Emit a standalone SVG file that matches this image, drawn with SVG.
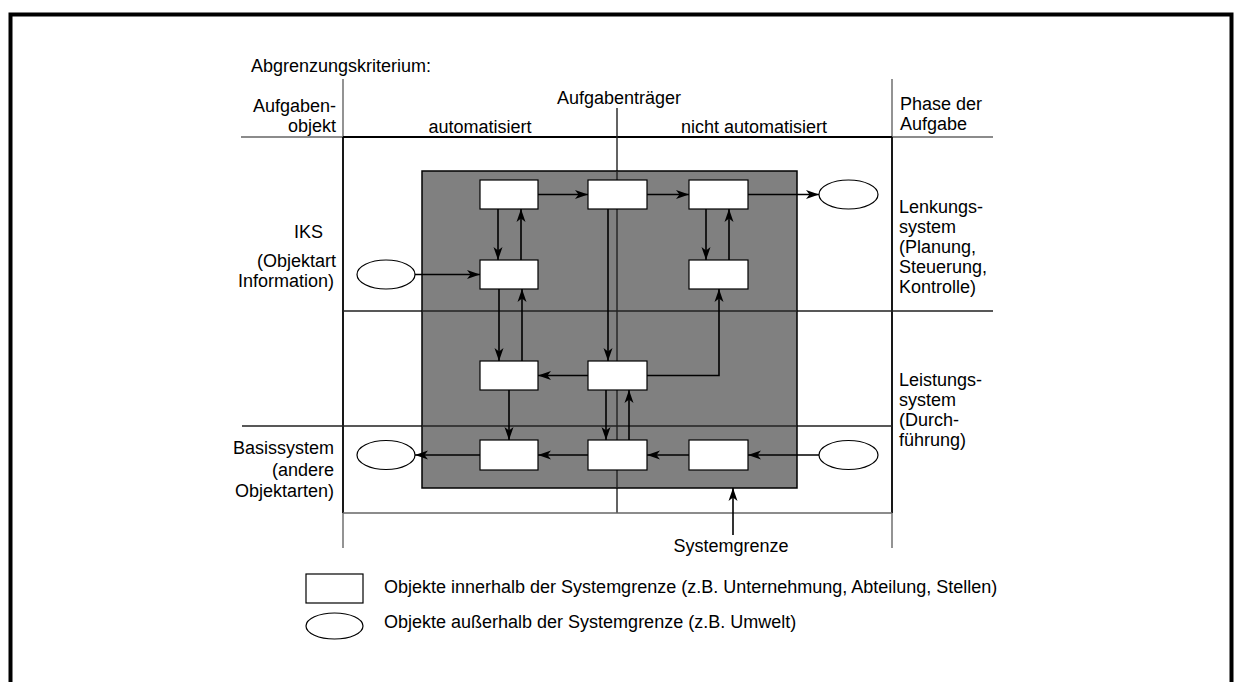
<svg xmlns="http://www.w3.org/2000/svg" width="1240" height="682" viewBox="0 0 1240 682">
<style>
text{font-family:"Liberation Sans",Arial,sans-serif;font-size:18px;fill:#000}
.box{fill:#fff;stroke:#000;stroke-width:1.2}
.ell{fill:#fff;stroke:#000;stroke-width:1.2}
.con{fill:none;stroke:#000;stroke-width:1.6}
.grid{fill:none;stroke:#000;stroke-width:1.8}
.thin{fill:none;stroke:#666;stroke-width:1.4}
.mid{fill:none;stroke:#222;stroke-width:1.4}
.end{text-anchor:end}
.mdl{text-anchor:middle}
</style>
<defs>
<marker id="ah" markerUnits="userSpaceOnUse" markerWidth="14" markerHeight="10" refX="13" refY="5" orient="auto">
<path d="M0,0.5 L13,5 L0,9.5 L3.5,5 z" fill="#000"/>
</marker>
</defs>
<rect x="10.5" y="14.5" width="1221" height="700" fill="none" stroke="#000" stroke-width="4"/>

<g id="grid">
<path class="thin" d="M343,79 V137 M343,513 V548 M892,79 V137 M892,513 V548 M241,137 H343 M892,137 H993"/>
<path class="grid" d="M343,137 H892 M343,137 V513 M892,137 V513"/>
<path class="mid" d="M343,311 H993 M242,426 H892 M617,108 V513"/>
<path class="thin" d="M343,513 H892"/>
</g>

<g id="systemgrenze-area">
<rect x="422" y="171" width="375" height="317" fill="#808080" stroke="#000" stroke-width="1.5"/>
</g>
<path class="mid" d="M617,171 V488 M422,311 H797 M422,426 H797"/>

<g id="connectors">
<path class="con" marker-end="url(#ah)" d="M538,194.5 H588"/>
<path class="con" marker-end="url(#ah)" d="M647,194.5 H689"/>
<path class="con" marker-end="url(#ah)" d="M748,194.5 H819"/>
<path class="con" marker-end="url(#ah)" d="M498,209 V260"/>
<path class="con" marker-end="url(#ah)" d="M521,260 V209"/>
<path class="con" marker-end="url(#ah)" d="M706,209 V260"/>
<path class="con" marker-end="url(#ah)" d="M729,260 V209"/>
<path class="con" marker-end="url(#ah)" d="M415,274.5 H480"/>
<path class="con" marker-end="url(#ah)" d="M499,289 V361"/>
<path class="con" marker-end="url(#ah)" d="M522,361 V289"/>
<path class="con" marker-end="url(#ah)" d="M608,209 V361"/>
<path class="con" marker-end="url(#ah)" d="M588,375.5 H538"/>
<path class="con" marker-end="url(#ah)" d="M647,375.5 H719 V289"/>
<path class="con" marker-end="url(#ah)" d="M509,390 V440"/>
<path class="con" marker-end="url(#ah)" d="M606,390 V440"/>
<path class="con" marker-end="url(#ah)" d="M629,440 V390"/>
<path class="con" marker-end="url(#ah)" d="M588,455 H538"/>
<path class="con" marker-end="url(#ah)" d="M480,455 H415"/>
<path class="con" marker-end="url(#ah)" d="M689,455 H647"/>
<path class="con" marker-end="url(#ah)" d="M819,455 H748"/>
<path class="con" marker-end="url(#ah)" d="M733,535 V488"/>
</g>

<g id="n-a"><rect class="box" x="480" y="180" width="58" height="29"/></g>
<g id="n-b"><rect class="box" x="588" y="180" width="59" height="29"/></g>
<g id="n-c"><rect class="box" x="689" y="180" width="59" height="29"/></g>
<g id="n-d"><rect class="box" x="480" y="260" width="58" height="29"/></g>
<g id="n-e"><rect class="box" x="689" y="260" width="59" height="29"/></g>
<g id="n-f"><rect class="box" x="480" y="361" width="58" height="29"/></g>
<g id="n-g"><rect class="box" x="588" y="361" width="59" height="29"/></g>
<g id="n-h"><rect class="box" x="480" y="440" width="58" height="30"/></g>
<g id="n-i"><rect class="box" x="588" y="440" width="59" height="30"/></g>
<g id="n-j"><rect class="box" x="689" y="440" width="59" height="30"/></g>

<g id="e-top-right"><ellipse class="ell" cx="848.5" cy="194.5" rx="29.5" ry="14.5"/></g>
<g id="e-iks"><ellipse class="ell" cx="386" cy="274.5" rx="29" ry="14.5"/></g>
<g id="e-basis-left"><ellipse class="ell" cx="386" cy="455" rx="29" ry="14.5"/></g>
<g id="e-basis-right"><ellipse class="ell" cx="848.5" cy="455" rx="29.5" ry="14.5"/></g>

<g id="labels">
<text x="251" y="72">Abgrenzungskriterium:</text>
<text class="end" x="336" y="112">Aufgaben-</text>
<text class="end" x="336" y="132">objekt</text>
<text class="mdl" x="619" y="104">Aufgabenträger</text>
<text class="mdl" x="480" y="133">automatisiert</text>
<text class="mdl" x="754" y="133">nicht automatisiert</text>
<text x="900" y="110">Phase der</text>
<text x="900" y="130">Aufgabe</text>
<text class="end" x="323" y="238">IKS</text>
<text class="end" x="336" y="267">(Objektart</text>
<text class="end" x="334" y="287">Information)</text>
<text x="899" y="213">Lenkungs-</text>
<text x="899" y="233">system</text>
<text x="899" y="253">(Planung,</text>
<text x="899" y="273">Steuerung,</text>
<text x="899" y="293">Kontrolle)</text>
<text x="899" y="386">Leistungs-</text>
<text x="899" y="406">system</text>
<text x="899" y="426">(Durch-</text>
<text x="899" y="446">führung)</text>
<text class="end" x="334" y="454">Basissystem</text>
<text class="end" x="334" y="476">(andere</text>
<text class="end" x="334" y="497">Objektarten)</text>
<text class="mdl" x="731" y="552">Systemgrenze</text>
</g>

<g id="legend">
<rect class="box" x="306" y="574" width="57" height="29"/>
<ellipse class="ell" cx="334.5" cy="626" rx="28.5" ry="13"/>
<text x="384" y="593">Objekte innerhalb der Systemgrenze (z.B. Unternehmung, Abteilung, Stellen)</text>
<text x="384" y="628">Objekte außerhalb der Systemgrenze (z.B. Umwelt)</text>
</g>
</svg>
